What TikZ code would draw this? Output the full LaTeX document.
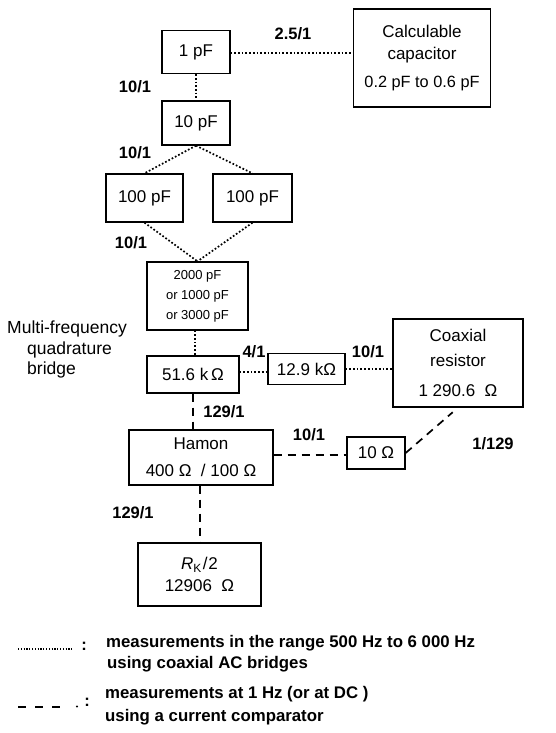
\documentclass[tikz,border=0pt]{standalone}
\usepackage{fontspec}
\setmainfont{Liberation Sans}
\usetikzlibrary{arrows.meta}

\begin{document}
\begin{tikzpicture}[x=1pt,y=-1pt,
    box/.style={draw,line width=1.3pt,inner sep=0pt,align=center,font=\fontsize{17}{22}\selectfont},
    ratio/.style={font=\fontsize{16.5}{20}\selectfont\bfseries},
    dotline/.style={line width=1.7pt,dash pattern=on 1.7pt off 2pt},
    dashline/.style={line width=1.7pt,dash pattern=on 8pt off 6pt}]
  \useasboundingbox (0,0) rectangle (555,733);
  % capacitance chain
  \node[box,minimum width=68pt,minimum height=43pt] (c1) at (196,52) {1 pF};
  \node[box,minimum width=137pt,minimum height=98pt] (calc) at (422,58)
    {Calculable\\capacitor\\[6pt]{\fontsize{16.3}{20}\selectfont 0.2 pF to 0.6 pF}};
  \node[box,minimum width=68pt,minimum height=44pt] (c10) at (196,123) {10 pF};
  \node[box,minimum width=77pt,minimum height=48pt] (c100a) at (144.5,198) {100 pF};
  \node[box,minimum width=79pt,minimum height=48pt] (c100b) at (252.5,198) {100 pF};
  \node[box,minimum width=101pt,minimum height=68pt,font=\fontsize{13}{20}\selectfont] (c2000) at (197.5,296)
    {2000 pF\\or 1000 pF\\or 3000 pF};
  % resistance chain
  \node[box,minimum width=92pt,minimum height=37pt] (r516) at (193,374.5) {51.6 k\,Ω};
  \node[box,minimum width=77pt,minimum height=31pt] (r129) at (306.5,369) {12.9 kΩ};
  \node[box,minimum width=130pt,minimum height=88pt,font=\fontsize{17}{25}\selectfont] (coax) at (458,363)
    {Coaxial\\resistor\\[5pt]1 290.6~~Ω};
  \node[box,minimum width=144pt,minimum height=55pt,font=\fontsize{17}{27}\selectfont] (hamon) at (201,457.5)
    {Hamon\\400 Ω~~/ 100 Ω};
  \node[box,minimum width=58pt,minimum height=32pt] (r10) at (376,453) {10 Ω};
  \node[box,minimum width=123pt,minimum height=63pt] (rk) at (199.5,574.5)
    {\textit{R}\textsubscript{K}\kern1pt/\kern1pt2\\12906~~Ω};
  \node[font=\fontsize{17.5}{20.5}\selectfont,align=left,anchor=west,inner sep=0pt] (mfq) at (7,349.5)
    {Multi-frequency\\\hspace*{20pt}quadrature\\\hspace*{20pt}bridge};

  % dotted links (AC bridges)
  \draw[dotline] (c1.east |- 0,53) -- (calc.west |- 0,53);
  \draw[dotline] (c1.south) -- (c10.north);
  \draw[dotline] (c10.south) -- (c100a.north);
  \draw[dotline] (c10.south) -- (c100b.north);
  \draw[dotline] (c100a.south) -- (c2000.north);
  \draw[dotline] (c100b.south) -- (c2000.north);
  \draw[dotline] (c2000.south -| 195,0) -- (r516.north -| 195,0);
  \draw[dotline] (r516.east |- 0,372) -- (r129.west |- 0,372);
  \draw[dotline] (r129.east |- 0,369) -- (coax.west |- 0,369);
  % dashed links (current comparator)
  \draw[dashline] (r516.south) -- (r516.south |- hamon.north);
  \draw[dashline] (hamon.east |- 0,455) -- (r10.west |- 0,455);
  \draw[dashline,shorten >=7pt] (r10.east) -- (coax.south);
  \draw[dashline] (hamon.south -| 200,0) -- (rk.north -| 200,0);

  % ratios
  \node[ratio] (q1) at (293,34) {2.5/1};
  \node[ratio] (q2) at (135,87) {10/1};
  \node[ratio] (q3) at (135,153) {10/1};
  \node[ratio] (q4) at (131,243) {10/1};
  \node[ratio] (q5) at (254,352) {4/1};
  \node[ratio] (q6) at (368,352) {10/1};
  \node[ratio] (q7) at (224,412) {129/1};
  \node[ratio] (q8) at (309,435) {10/1};
  \node[ratio] (q9) at (493,444) {1/129};
  \node[ratio] (q10) at (133,513) {129/1};

  % legend
  \draw[line width=1.2pt,dash pattern=on 1.2pt off 1.6pt] (18,649) -- (73,649);
  \node[ratio] (col1) at (84,646) {:};
  \node[ratio,align=left,anchor=west,inner sep=0pt,font=\fontsize{16.8}{21}\selectfont\bfseries] (leg1) at (106,653.5)
    {measurements in the range 500 Hz to 6 000 Hz\\\hspace*{1pt}using coaxial AC bridges};
  \draw[line width=1.8pt,dash pattern=on 8pt off 9pt] (18,707) -- (68,707);
  \fill (77,706.5) circle (1.1pt);
  \node[ratio] (col2) at (87,702) {:};
  \node[ratio,align=left,anchor=west,inner sep=0pt,font=\fontsize{16.8}{23}\selectfont\bfseries] (leg2) at (105,705.5)
    {measurements at 1 Hz (or at DC )\\using a current comparator};
\end{tikzpicture}
\end{document}
